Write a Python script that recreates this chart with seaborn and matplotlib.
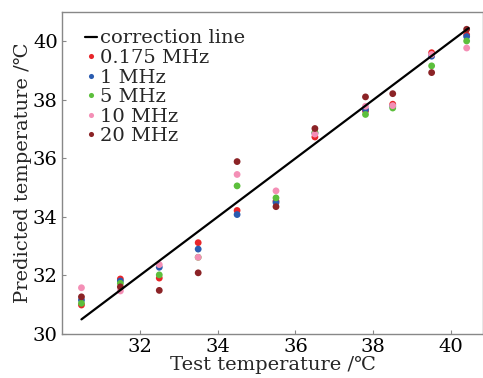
import numpy as np
import pandas as pd
import matplotlib
matplotlib.use("Agg")
import matplotlib.pyplot as plt
import seaborn as sns

test_temp = [30.5, 31.5, 32.5, 33.5, 34.5, 35.5, 36.5, 37.8, 38.5, 39.5, 40.4]
pred_0175 = [30.99, 31.88, 31.91, 33.12, 34.22, 34.54, 36.73, 37.62, 37.85, 39.61, 40.22]
pred_1 = [31.16, 31.81, 32.28, 32.90, 34.08, 34.49, 36.86, 37.67, 37.78, 39.49, 40.16]
pred_5 = [31.05, 31.73, 32.02, 32.62, 35.06, 34.65, 36.89, 37.50, 37.72, 39.16, 40.01]
pred_10 = [31.58, 31.47, 32.37, 32.62, 35.45, 34.89, 36.83, 37.78, 37.80, 39.55, 39.77]
pred_20 = [31.27, 31.61, 31.49, 32.09, 35.89, 34.35, 37.02, 38.10, 38.21, 38.93, 40.41]
series_labels = ["0.175 MHz", "1 MHz", "5 MHz", "10 MHz", "20 MHz"]
line_x = [30.5, 40.45]
line_y = [30.5, 40.45]

colors = ["#e8262a", "#2a5cb0", "#5cbf3c", "#f48fb6", "#8b2326"]

sns.set_style("ticks")
plt.rcParams["font.family"] = ["DejaVu Serif", "Liberation Serif"]
plt.rcParams["mathtext.fontset"] = "dejavuserif"

rows = []
for lab, vals in zip(series_labels, [pred_0175, pred_1, pred_5, pred_10, pred_20]):
    for xv, yv in zip(test_temp, vals):
        rows.append({"x": xv, "y": yv, "freq": lab})
df = pd.DataFrame(rows)
line_df = pd.DataFrame({"x": line_x, "y": line_y})

fig = plt.figure(figsize=(4.83, 3.78), dpi=100)
ax = fig.add_axes([62 / 483, 44 / 378, 1 - 62 / 483, (334 - 12) / 378])

sns.lineplot(data=line_df, x="x", y="y", color="black", lw=1.6, ax=ax,
             label="correction line")
sns.scatterplot(data=df, x="x", y="y", hue="freq", hue_order=series_labels,
                palette=colors, s=24, edgecolor="none", ax=ax)

ax.set_xlim(30, 40.82)
ax.set_ylim(30, 41)
ax.set_xticks([32, 34, 36, 38, 40])
ax.set_yticks([30, 32, 34, 36, 38, 40])
ax.tick_params(direction="in", length=3, width=0.8, labelsize=14, colors="#888888",
               labelcolor="black", pad=3)
for sp in ax.spines.values():
    sp.set_color("#888888")
    sp.set_linewidth(1.0)

ax.set_xlabel("Test temperature /\u2103", fontsize=14, labelpad=0)
ax.set_ylabel("Predicted temperature /\u2103", fontsize=14, labelpad=1)

leg = ax.legend(loc="upper left", bbox_to_anchor=(0.025, 0.985), frameon=False,
                fontsize=14, handlelength=0.6, handletextpad=0.15,
                labelspacing=0.08, borderaxespad=0.25, markerscale=0.75)

fig.savefig("out.png", dpi=100)
